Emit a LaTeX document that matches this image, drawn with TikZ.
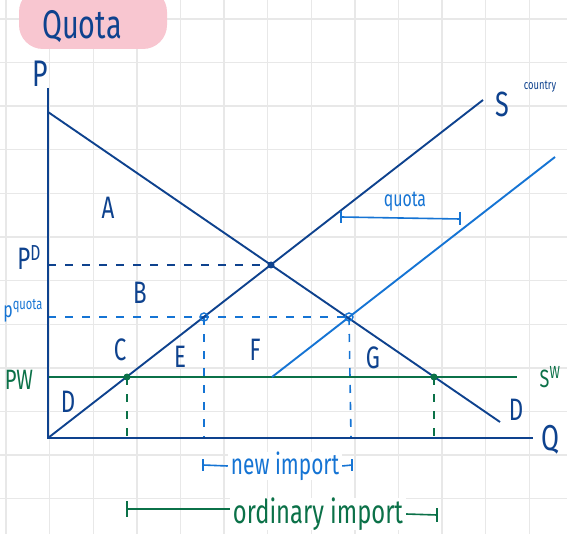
\documentclass[tikz,border=0pt]{standalone}
\usepackage{fontspec}
\setmainfont{Fira Sans}
\usetikzlibrary{calc}
\definecolor{navy}{HTML}{0E428E}
\definecolor{lblue}{HTML}{1574D4}
\definecolor{dgreen}{HTML}{0B7148}
\definecolor{blob}{HTML}{F8C6D0}
\definecolor{gridc}{HTML}{E8E8E8}
\newcommand{\hw}[1]{\scalebox{0.72}[1]{#1}}
\begin{document}
\begin{tikzpicture}[x=1pt,y=-1pt,
  lbl/.style={inner sep=0pt,font=\fontsize{31}{31}\selectfont},
  navyline/.style={navy,line width=1.9pt},
  bluelin/.style={lblue,line width=1.9pt},
  greenline/.style={dgreen,line width=1.9pt},
  dsh/.style={line width=1.6pt,dash pattern=on 8pt off 9pt},
  dot/.style={circle,fill,inner sep=0pt,minimum size=7pt},
  odot/.style={circle,draw,line width=1.4pt,inner sep=0pt,minimum size=8pt},
  brk/.style={line width=1.6pt}]
\useasboundingbox (0,0) rectangle (567,534);
\fill[white] (0,0) rectangle (567,534);
% grid
\foreach \i in {0,...,12} {\draw[gridc,line width=1.4pt] (6+43.6*\i,0) -- (6+43.6*\i,534);}
\foreach \j in {0,...,11} {\draw[gridc,line width=1.4pt] (0,19+43.6*\j) -- (567,19+43.6*\j);}
% title blob
\fill[blob,rounded corners=24pt] (19,-12) rectangle (167,49);
\node[lbl,navy,font=\fontsize{40}{40}\selectfont] (title) at (82,27) {\hw{Quota}};
% coordinates
\coordinate (O) at (48,438);
\coordinate (Ptop) at (48,88);
\coordinate (Qend) at (533,438);
\coordinate (Ds) at (48,112);
\coordinate (De) at (500,422);
\coordinate (Se) at (483,100);
\coordinate (SQs) at (272,377);
\coordinate (SQe) at (555,157);
\coordinate (PWs) at (48,377);
\coordinate (PWe) at (517,377);
\coordinate (PDs) at (48,265);
\coordinate (PQs) at (48,317);
\coordinate (e1) at (271,265);
\coordinate (e2) at (349,317);
\coordinate (a) at (204,317);
\coordinate (b) at (127,377);
\coordinate (c) at (434,377);
\coordinate (ba) at (127,438);
\coordinate (aa) at (204,438);
\coordinate (e2a) at (351,438);
\coordinate (ca) at (434,438);
% dashed lines
\draw[dsh,navy] (PDs) -- (e1);
\draw[dsh,lblue] (PQs) -- (e2);
\draw[dsh,dgreen] (b) -- (ba);
\draw[dsh,lblue] (a) -- (aa);
\draw[dsh,lblue] (e2) -- (e2a);
\draw[dsh,dgreen] (c) -- (ca);
% main lines
\draw[greenline] (PWs) -- (PWe);
\draw[bluelin] (SQs) -- (SQe);
\draw[navyline] (Ptop) -- (O) -- (Qend);
\draw[navyline] (Ds) -- (De);
\draw[navyline] (O) -- (Se);
% dots
\node[dot,navy] (d1) at (e1) {};
\node[odot,lblue] (d2) at (e2) {};
\node[odot,lblue] (d3) at (a) {};
\node[dot,dgreen] (d4) at (b) {};
\node[dot,dgreen] (d5) at (c) {};
% axis labels
\node[lbl,navy,font=\fontsize{37}{37}\selectfont] (P) at (40,74) {\hw{P}};
\node[lbl,navy,font=\fontsize{36}{36}\selectfont] (Q) at (550,440) {\hw{Q}};
\node[lbl,navy] (Dl) at (516,410) {\hw{D}};
\node[lbl,navy,font=\fontsize{35}{35}\selectfont] (Sl) at (502,104) {\hw{S}};
\node[lbl,navy,font=\fontsize{13}{13}\selectfont] (Sc) at (540,87) {\hw{country}};
\node[lbl,dgreen,font=\fontsize{25}{25}\selectfont] (SW) at (550,377) {\hw{S\textsuperscript{W}}};
% price labels
\node[lbl,navy,font=\fontsize{31}{31}\selectfont] (PD) at (29,258) {\hw{P\textsuperscript{D}}};
\node[lbl,lblue,font=\fontsize{22}{22}\selectfont] (PQ) at (23,311) {\hw{p\textsuperscript{quota}}};
\node[lbl,dgreen,font=\fontsize{28}{28}\selectfont] (PW) at (19,380) {\hw{PW}};
% area labels
\node[lbl,navy] (A) at (108,208) {\hw{A}};
\node[lbl,navy] (B) at (140,293) {\hw{B}};
\node[lbl,navy] (C) at (120,350) {\hw{C}};
\node[lbl,navy] (E) at (180,357) {\hw{E}};
\node[lbl,navy] (F) at (255,350) {\hw{F}};
\node[lbl,navy] (G) at (373,358) {\hw{G}};
\node[lbl,navy] (Dd) at (68,402) {\hw{D}};
% quota bracket
\coordinate (q1) at (341,217);
\coordinate (q2) at (460,219);
\draw[lblue,brk] (q1) -- (q2);
\draw[lblue,brk] ($(q1)+(0,-6)$) -- ($(q1)+(0,6)$);
\draw[lblue,brk] ($(q2)+(0,-7)$) -- ($(q2)+(0,6)$);
\node[lbl,lblue,font=\fontsize{22}{22}\selectfont] (qt) at (405,202) {\hw{quota}};
% new import
\node[lbl,lblue,font=\fontsize{29}{29}\selectfont,fill=white,inner xsep=3pt] (ni) at (285,466) {\hw{new import}};
\coordinate (n1) at (203,465);
\coordinate (n2) at (352,465);
\draw[lblue,brk] (n1) -- (ni.west) (ni.east) -- (n2);
\draw[lblue,brk] ($(n1)+(0,-6)$) -- ($(n1)+(0,6)$);
\draw[lblue,brk] ($(n2)+(0,-6)$) -- ($(n2)+(0,6)$);
% ordinary import
\node[lbl,dgreen,font=\fontsize{33}{33}\selectfont,fill=white,inner xsep=3pt] (oi) at (318,514) {\hw{ordinary import}};
\coordinate (o1) at (127,509);
\coordinate (o2) at (437,515);
\draw[dgreen,brk] (o1) -- (o1 -| oi.west);
\draw[dgreen,brk] (oi.east) -- (o2);
\draw[dgreen,brk] ($(o1)+(0,-8)$) -- ($(o1)+(0,8)$);
\draw[dgreen,brk] ($(o2)+(0,-7)$) -- ($(o2)+(0,7)$);
\end{tikzpicture}
\end{document}
